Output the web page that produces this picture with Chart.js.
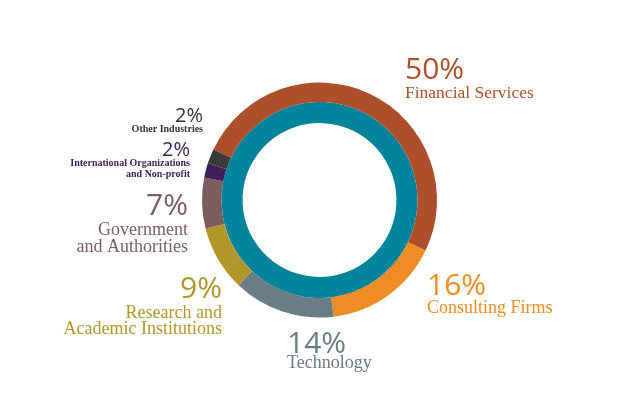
<!DOCTYPE html>
<html>
<head>
<meta charset="utf-8">
<style>
  html, body { margin: 0; padding: 0; background: #fff; }
  #wrap { width: 641px; height: 400px; }
</style>
<script src="https://cdn.jsdelivr.net/npm/chart.js@4"></script>
</head>
<body>
<div id="wrap"><canvas id="chart" width="641" height="400"></canvas></div>
<script>
// data, clockwise from the upper left
const categories = [
    ["Financial Services"],
    ["Consulting Firms"],
    ["Technology"],
    ["Research and", "Academic Institutions"],
    ["Government", "and Authorities"],
    ["International Organizations", "and Non-profit"],
    ["Other Industries"],
];
const shares = [50, 16, 14, 9, 7, 2, 2];

const colors = ["#ad4f2a", "#ef8c25", "#6a7c84", "#b3962a", "#7a5f5e", "#3e1f58", "#3a3a3a"];
const textColors = ["#ad4f2a", "#ef8c25", "#6a7c84", "#b3962a", "#7a5f5e", "#3e1f58", "#333333"];
const ringColor = "#00849c";

// where each label sits (x, baseline of the % line, alignment, sizes)
const labelLayout = [
    { x: 405, y: 79,  align: "left",  pct: 30, txt: 17.5, gap: 19, lh: 17, bold: false },
    { x: 427, y: 295, align: "left",  pct: 30, txt: 18, gap: 18, lh: 17, bold: false },
    { x: 287, y: 353, align: "left",  pct: 30, txt: 18, gap: 15, lh: 17, bold: false },
    { x: 222, y: 298, align: "right", pct: 30, txt: 18, gap: 20, lh: 16, bold: false },
    { x: 188, y: 215, align: "right", pct: 30, txt: 18, gap: 20, lh: 17, bold: false },
    { x: 190, y: 156, align: "right", pct: 20, txt: 10, gap: 10, lh: 11, bold: true },
    { x: 203, y: 122, align: "right", pct: 20, txt: 10, gap: 10, lh: 11, bold: true },
];

const labelsPlugin = {
    id: "sliceLabels",
    afterDraw(chart) {
        const ctx = chart.ctx;
        ctx.save();
        ctx.textBaseline = "alphabetic";
        categories.forEach((lines, i) => {
            const L = labelLayout[i];
            ctx.fillStyle = textColors[i];
            ctx.textAlign = L.align;
            ctx.font = `${L.pct}px "Open Sans", Roboto, sans-serif`;
            ctx.fillText(`${shares[i]}%`, L.x, L.y);
            ctx.font = `${L.bold ? "bold " : ""}${L.txt}px "Liberation Serif", serif`;
            lines.forEach((line, k) => {
                ctx.fillText(line, L.x, L.y + L.gap + k * L.lh);
            });
        });
        ctx.restore();
    },
};

new Chart(document.getElementById("chart"), {
    type: "doughnut",
    data: {
        labels: categories.map(c => c.join(" ")),
        datasets: [
            {
                data: shares,
                backgroundColor: colors,
                borderWidth: 0,
                hoverOffset: 0,
                weight: 1,
            },
            {
                data: [100],
                backgroundColor: [ringColor],
                borderWidth: 0,
                hoverOffset: 0,
                weight: 1.08,
            },
        ],
    },
    options: {
        responsive: false,
        animation: false,
        rotation: -64.5,
        cutout: "65.5%",
        layout: { padding: { top: 82.5, bottom: 82.5, left: 202, right: 204 } },
        plugins: {
            legend: { display: false },
            tooltip: { enabled: false },
        },
    },
    plugins: [labelsPlugin],
});
</script>
</body>
</html>
